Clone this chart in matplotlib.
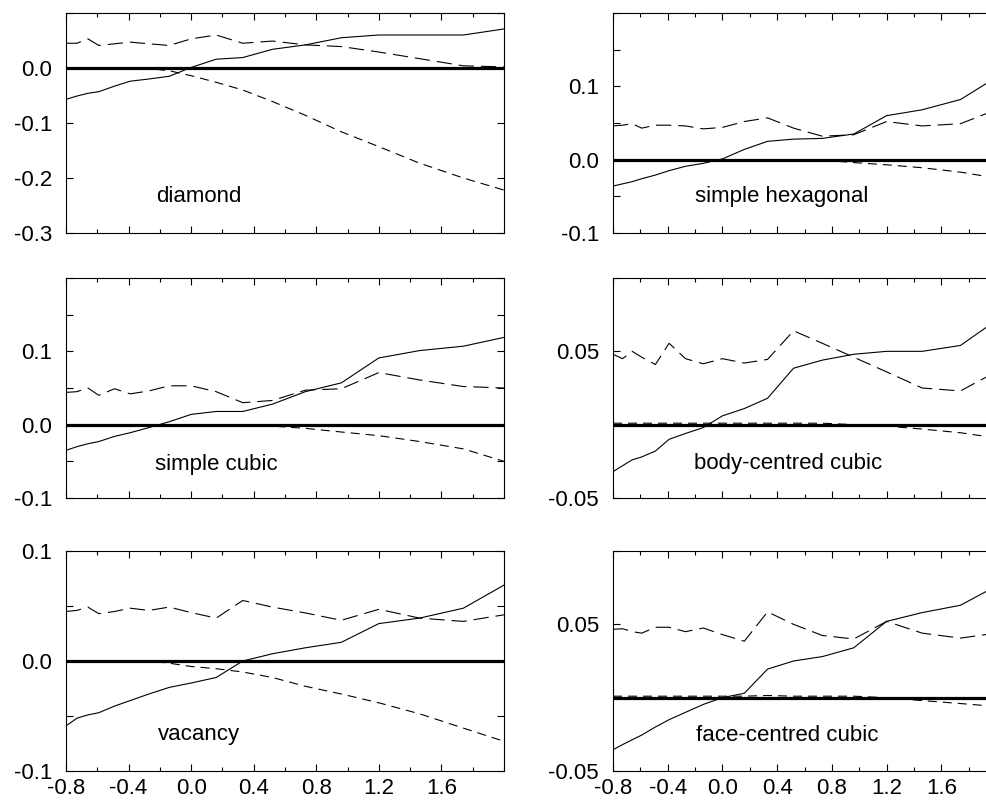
import matplotlib
matplotlib.use("Agg")
import matplotlib.pyplot as plt
from matplotlib.ticker import MultipleLocator

plt.rcParams['font.family'] = ['Liberation Sans', 'DejaVu Sans']
plt.rcParams['lines.scale_dashes'] = False

# common abscissa of all curves
x_vals = [-0.80, -0.73, -0.66, -0.59, -0.49, -0.39, -0.27, -0.14, 0.00,
          0.16, 0.33, 0.52, 0.73, 0.96, 1.20, 1.46, 1.74, 2.00]

# diamond
diamond_solid = [-0.057, -0.051, -0.046, -0.043, -0.033, -0.024, -0.020, -0.015, 0.001,
                 0.016, 0.019, 0.034, 0.042, 0.055, 0.060, 0.060, 0.060, 0.071]
diamond_long = [0.045, 0.045, 0.053, 0.041, 0.044, 0.047, 0.044, 0.041, 0.053,
                0.060, 0.045, 0.049, 0.042, 0.039, 0.029, 0.017, 0.004, 0.002]
diamond_short = [0.0, 0.0, 0.0, 0.0, 0.0, 0.0, -0.001, -0.005, -0.014,
                 -0.026, -0.040, -0.061, -0.086, -0.116, -0.143, -0.173, -0.200, -0.222]

# simple hexagonal
hex_solid = [-0.036, -0.033, -0.030, -0.026, -0.021, -0.015, -0.009, -0.005, 0.001,
             0.014, 0.025, 0.028, 0.029, 0.035, 0.060, 0.068, 0.082, 0.112]
hex_long = [0.046, 0.047, 0.049, 0.043, 0.047, 0.047, 0.046, 0.042, 0.044,
            0.052, 0.057, 0.043, 0.032, 0.034, 0.052, 0.046, 0.049, 0.068]
hex_short = [0.0, 0.0, 0.0, 0.0, 0.0, 0.0, 0.0, 0.0, 0.0,
             0.0, 0.0, 0.0, -0.0005, -0.004, -0.007, -0.011, -0.017, -0.025]

# simple cubic
sc_solid = [-0.035, -0.030, -0.026, -0.023, -0.016, -0.011, -0.004, 0.004, 0.014,
            0.018, 0.018, 0.028, 0.045, 0.057, 0.091, 0.101, 0.107, 0.119]
sc_long = [0.044, 0.045, 0.050, 0.040, 0.049, 0.042, 0.046, 0.053, 0.053,
           0.045, 0.030, 0.033, 0.047, 0.049, 0.071, 0.061, 0.052, 0.050]
sc_short = [0.0, 0.0, 0.0, 0.0, 0.0, 0.0, 0.0, 0.0, 0.0,
            0.0, 0.0, -0.002, -0.005, -0.010, -0.015, -0.023, -0.033, -0.050]

# body-centred cubic
bcc_solid = [-0.032, -0.028, -0.024, -0.022, -0.018, -0.010, -0.006, -0.002, 0.006,
             0.011, 0.018, 0.0385, 0.044, 0.048, 0.050, 0.050, 0.054, 0.071]
bcc_long = [0.048, 0.045, 0.050, 0.046, 0.041, 0.0555, 0.045, 0.0415, 0.045,
            0.042, 0.0445, 0.064, 0.0555, 0.046, 0.036, 0.025, 0.023, 0.036]
bcc_short = [0.001, 0.001, 0.001, 0.001, 0.001, 0.001, 0.001, 0.001, 0.001,
             0.001, 0.001, 0.001, 0.001, 0.0, -0.001, -0.003, -0.0055, -0.009]

# vacancy
vac_solid = [-0.059, -0.052, -0.049, -0.047, -0.041, -0.036, -0.030, -0.024, -0.020,
             -0.015, 0.0, 0.0066, 0.012, 0.017, 0.034, 0.039, 0.048, 0.069]
vac_long = [0.045, 0.046, 0.049, 0.043, 0.045, 0.048, 0.046, 0.049, 0.044,
            0.039, 0.055, 0.049, 0.0437, 0.037, 0.047, 0.039, 0.036, 0.042]
vac_short = [0.0, 0.0, 0.0, 0.0, 0.0, 0.0, 0.0, -0.002, -0.005,
             -0.007, -0.010, -0.015, -0.023, -0.030, -0.038, -0.048, -0.061, -0.073]

# face-centred cubic
fcc_solid = [-0.0355, -0.032, -0.0287, -0.0255, -0.020, -0.015, -0.010, -0.0046, 0.0,
             0.003, 0.0195, 0.025, 0.028, 0.034, 0.052, 0.058, 0.063, 0.076]
fcc_long = [0.0466, 0.047, 0.045, 0.044, 0.048, 0.048, 0.045, 0.0475, 0.043,
            0.0385, 0.0585, 0.050, 0.0424, 0.040, 0.052, 0.044, 0.0406, 0.044]
fcc_short = [0.001, 0.001, 0.001, 0.001, 0.001, 0.001, 0.001, 0.001, 0.001,
             0.001, 0.0015, 0.001, 0.001, 0.001, 0.0, -0.002, -0.004, -0.006]

x_ticks = [-0.8, -0.4, 0.0, 0.4, 0.8, 1.2, 1.6]
x_tick_labels = ['-0.8', '-0.4', '0.0', '0.4', '0.8', '1.2', '1.6']

# name, curves, ylim, yticks, ytick labels, label position (data)
panels = [
    ('diamond', diamond_solid, diamond_long, diamond_short, (-0.3, 0.1),
     [-0.3, -0.2, -0.1, 0.0, 0.1], ['-0.3', '-0.2', '-0.1', '0.0', ''], (-0.225, -0.234)),
    ('simple hexagonal', hex_solid, hex_long, hex_short, (-0.1, 0.2),
     [-0.1, -0.05, 0.0, 0.05, 0.1, 0.15, 0.2], ['-0.1', '', '0.0', '', '0.1', '', ''], (-0.2, -0.050)),
    ('simple cubic', sc_solid, sc_long, sc_short, (-0.1, 0.2),
     [-0.1, -0.05, 0.0, 0.05, 0.1, 0.15, 0.2], ['-0.1', '', '0.0', '', '0.1', '', ''], (-0.232, -0.0547)),
    ('body-centred cubic', bcc_solid, bcc_long, bcc_short, (-0.05, 0.1),
     [-0.05, 0.0, 0.05, 0.1], ['-0.05', '', '0.05', ''], (-0.207, -0.0262)),
    ('vacancy', vac_solid, vac_long, vac_short, (-0.1, 0.1),
     [-0.1, -0.05, 0.0, 0.05, 0.1], ['-0.1', '', '0.0', '', '0.1'], (-0.213, -0.0668)),
    ('face-centred cubic', fcc_solid, fcc_long, fcc_short, (-0.05, 0.1),
     [-0.05, 0.0, 0.05, 0.1], ['-0.05', '', '0.05', ''], (-0.192, -0.0256)),
]

W, H = 987, 802
fig = plt.figure(figsize=(W / 100, H / 100), dpi=100)

col_px = [(66, 504), (613, 996)]
row_px = [(13, 233), (278, 498), (551, 771)]

for i, (name, solid, long_d, short_d, ylim, yt, ytl, lab) in enumerate(panels):
    row, col = divmod(i, 2)
    x0, x1 = col_px[col]
    y0, y1 = row_px[row]
    ax = fig.add_axes([x0 / W, 1 - y1 / H, (x1 - x0) / W, (y1 - y0) / H])

    ax.axhline(0.0, color='black', lw=2.3, zorder=1)
    ax.plot(x_vals, solid, color='black', lw=0.8, zorder=3)
    ax.plot(x_vals, long_d, color='black', lw=0.8, dashes=(11, 5), zorder=3)
    ax.plot(x_vals, short_d, color='black', lw=0.8, dashes=(6.5, 4.3), zorder=2)

    ax.set_xlim(-0.8, 2.0)
    ax.set_ylim(*ylim)
    ax.set_xticks(x_ticks)
    ax.xaxis.set_minor_locator(MultipleLocator(0.2))
    ax.set_yticks(yt)
    ax.set_yticklabels(ytl)
    if row == 2:
        ax.set_xticklabels(x_tick_labels)
    else:
        ax.set_xticklabels([])

    ax.tick_params(which='both', direction='in', top=True, right=True,
                   labelsize=16, width=0.8)
    ax.tick_params(axis='y', which='major', length=5, pad=10)
    ax.tick_params(axis='x', which='major', length=5, pad=5)
    ax.tick_params(which='minor', length=3)
    for sp in ax.spines.values():
        sp.set_linewidth(0.8)

    ax.text(lab[0], lab[1], name, fontsize=16, ha='left', va='center')

fig.savefig('out.png', dpi=100)
